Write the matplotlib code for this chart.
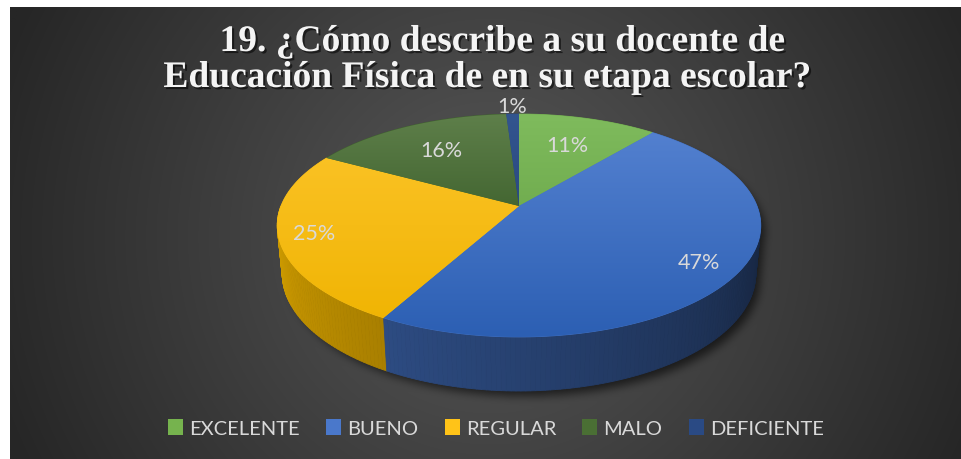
import numpy as np
import matplotlib
matplotlib.use('Agg')
import matplotlib.pyplot as plt
from matplotlib.patches import Polygon, Patch
from matplotlib.collections import PolyCollection
from matplotlib.path import Path
import matplotlib.patheffects as pe
import matplotlib.colors as mcolors

# ---------------- data ----------------
categories = ['EXCELENTE', 'BUENO', 'REGULAR', 'MALO', 'DEFICIENTE']
values = [11, 47, 25, 16, 1]
title_lines = ['19. ¿Cómo describe a su docente de',
               'Educación Física de en su etapa escolar?']

# ---------------- style ----------------
base_colors = ['#70AD47', '#4472C4', '#FFC000', '#43682B', '#264478']
top_light = ['#7fbb5d', '#5683d2', '#fdc52c', '#5e7f4a', '#33558f']
top_dark = ['#5e9a3d', '#2c5fb3', '#efb300', '#1f4410', '#1d3a6c']
legend_colors = ['#76b34e', '#4a78cb', '#ffc318', '#4a6f34', '#2a4a84']
label_radius = [0.66, 0.84, 0.86, 0.67, 1.1]
text_col = '#d9d9d9'
font_lbl = ['Lato', 'DejaVu Sans']

W, H = 961, 460
fig = plt.figure(figsize=(W / 100, H / 100), dpi=100)
ax = fig.add_axes([0, 0, 1, 1])
ax.axis('off')

# ---------------- projection of the 3-D pie ----------------
ELEV = np.radians(27.0)
CAM = 5.1
FOC = 1214.0
CX, CY = 519.0, 207.0
THICK = 0.228


def proj(x, y, z):
    s, c = np.sin(ELEV), np.cos(ELEV)
    v = y * s + z * c
    w = -y * c + z * s
    d = CAM - w
    return CX + FOC * x / d, CY - FOC * v / d


def depth(x, y, z):
    s, c = np.sin(ELEV), np.cos(ELEV)
    return -y * c + z * s


# ---------------- background with radial gradient + shadow ----------------
yy, xx = np.mgrid[0:H, 0:W]
bcx, bcy = 485.0, 234.0
rmax = np.hypot(max(bcx - 10, W - bcx), max(bcy - 8, H - bcy))
d = np.clip(np.hypot(xx - bcx, yy - bcy) / rmax, 0, 1)
lum = (0x58 + (0x26 - 0x58) * d) / 255.0

pts = np.column_stack([xx.ravel() + 0.5, yy.ravel() + 0.5])
mask = np.zeros(H * W, dtype=bool)
tt = np.radians(np.linspace(0, 360, 241))
for zl in np.linspace(0, -THICK, 5):
    px, py = proj(np.sin(tt), np.cos(tt), zl)
    mask |= Path(np.column_stack([px + 2, py + 4])).contains_points(pts)
mask = mask.reshape(H, W).astype(float)


def box_blur(a, r):
    k = 2 * r + 1
    p = np.pad(a, ((0, 0), (r + 1, r)), mode='edge')
    c = np.cumsum(p, axis=1)
    a = (c[:, k:] - c[:, :-k]) / k
    p = np.pad(a, ((r + 1, r), (0, 0)), mode='edge')
    c = np.cumsum(p, axis=0)
    return (c[k:, :] - c[:-k, :]) / k


sh = mask
for _ in range(3):
    sh = box_blur(sh, 4)
lum = lum * (1 - 0.6 * sh)
bg = np.dstack([lum, lum, lum])
ax.imshow(bg, extent=(10, W, H, 7.5), origin='upper', aspect='auto',
          interpolation='bilinear', zorder=0)
ax.imshow(np.ones((2, 2, 3)), extent=(0, 10, H, 0), origin='upper',
          aspect='auto', zorder=0)
ax.imshow(np.ones((2, 2, 3)), extent=(0, W, 7.5, 0), origin='upper',
          aspect='auto', zorder=0)

# ---------------- slices ----------------
fr = np.array(values, dtype=float) / np.sum(values)
edges = np.concatenate([[0], np.cumsum(fr)]) * 360.0

quads, qcols, qdep = [], [], []
for i in range(len(values)):
    a0, a1 = max(edges[i], 90.0), min(edges[i + 1], 270.0)
    if a1 <= a0:
        continue
    n = max(2, int((a1 - a0) / 1.0))
    angs = np.linspace(a0, a1, n + 1)
    rgb = np.array(mcolors.to_rgb(base_colors[i]))
    for j in range(n):
        t0, t1 = np.radians(angs[j]), np.radians(angs[j + 1])
        x0, y0 = np.sin(t0), np.cos(t0)
        x1, y1 = np.sin(t1), np.cos(t1)
        p1 = proj(x0, y0, 0); p2 = proj(x1, y1, 0)
        p3 = proj(x1, y1, -THICK); p4 = proj(x0, y0, -THICK)
        quads.append([p1, p2, p3, p4])
        tm = 0.5 * (angs[j] + angs[j + 1])
        f = np.clip(0.65 + (tm - 205.0) * 0.0031, 0.3, 0.9)
        qcols.append(tuple(rgb * f))
        qdep.append(depth(0.5 * (x0 + x1), 0.5 * (y0 + y1), 0))
order = np.argsort(qdep)
pc = PolyCollection([quads[k] for k in order],
                    facecolors=[qcols[k] for k in order],
                    edgecolors=[qcols[k] for k in order], linewidths=0.6,
                    zorder=2)
ax.add_collection(pc)

ytop = proj(0, 1, 0)[1]
ybot = proj(0, -1, 0)[1]
for i in range(len(values)):
    angs = np.radians(np.linspace(edges[i], edges[i + 1],
                                  max(3, int(edges[i + 1] - edges[i]) + 2)))
    xs, ys = proj(np.sin(angs), np.cos(angs), 0)
    verts = np.vstack([[CX, CY], np.column_stack([xs, ys])])
    c1 = np.array(mcolors.to_rgb(top_light[i]))
    c2 = np.array(mcolors.to_rgb(top_dark[i]))
    mid = tuple((c1 + c2) / 2)
    poly = Polygon(verts, closed=True, facecolor=mid, edgecolor=mid,
                   linewidth=0.6, zorder=3)
    ax.add_patch(poly)
    g = np.linspace(0, 1, 256)[:, None, None]
    grad = c1[None, None, :] * (1 - g) + c2[None, None, :] * g
    im = ax.imshow(grad, extent=(CX - 260, CX + 260, ybot, ytop),
                   origin='upper', aspect='auto', interpolation='bilinear',
                   zorder=4)
    im.set_clip_path(poly)

# ---------------- data labels ----------------
for i, v in enumerate(values):
    mid_a = np.radians(0.5 * (edges[i] + edges[i + 1]))
    r = label_radius[i]
    lx, ly = proj(r * np.sin(mid_a), r * np.cos(mid_a), 0)
    ax.text(lx, ly, f'{v}%', color=text_col, fontsize=15.5, family=font_lbl,
            ha='center', va='center', zorder=6)

# ---------------- title ----------------
shadow = [pe.withSimplePatchShadow(offset=(1.5, -1.5), shadow_rgbFace='black',
                                   alpha=0.55)]
ax.text(502, 52, title_lines[0], color='#f4f4f4', fontsize=27,
        family=['Liberation Serif', 'DejaVu Serif'], fontweight='bold',
        ha='center', va='baseline', zorder=6, path_effects=shadow)
ax.text(487, 88, title_lines[1], color='#f4f4f4', fontsize=27,
        family=['Liberation Serif', 'DejaVu Serif'], fontweight='bold',
        ha='center', va='baseline', zorder=6, path_effects=shadow)

# ---------------- legend ----------------
handles = [Patch(facecolor=legend_colors[i], edgecolor='none', label=categories[i])
           for i in range(len(categories))]
leg = ax.legend(handles=handles, ncol=5, loc='center',
                bbox_to_anchor=(496 / W, 1 - 429 / H), frameon=False,
                prop={'family': font_lbl, 'size': 14.5},
                handlelength=0.75, handleheight=0.8, handletextpad=0.3,
                columnspacing=1.3, borderpad=0)
for t in leg.get_texts():
    t.set_color(text_col)

ax.set_xlim(0, W)
ax.set_ylim(H, 0)
fig.savefig('out.png', dpi=100)
